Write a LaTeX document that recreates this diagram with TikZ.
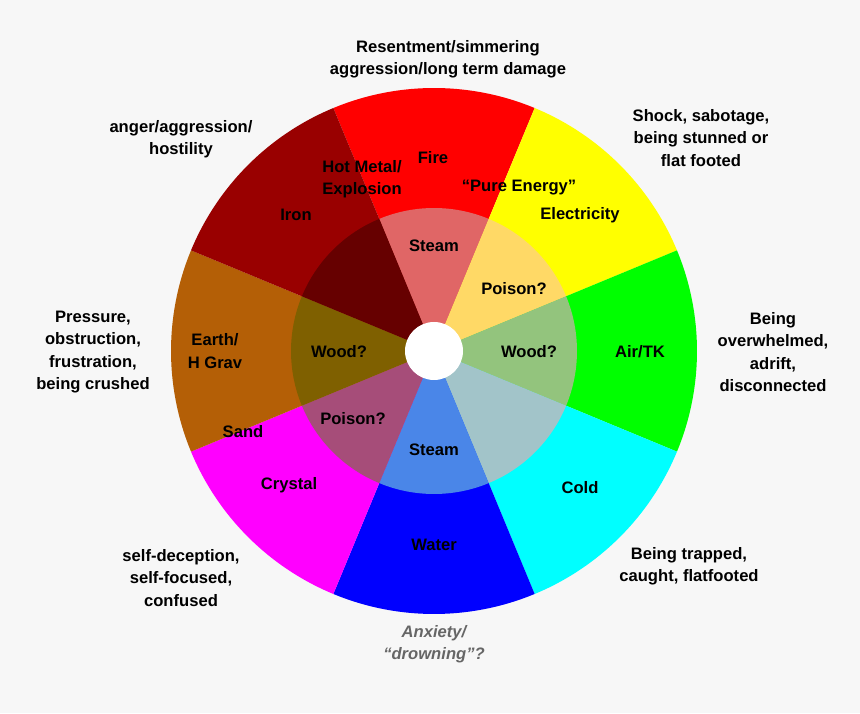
\documentclass[tikz,border=0pt]{standalone}
\usepackage{fontspec}
\setmainfont{Liberation Sans}
\begin{document}
\begin{tikzpicture}[x=1pt,y=1pt,
  lab/.style={font=\fontsize{16.6}{22.5}\selectfont\bfseries,align=center,inner sep=0pt},
  note/.style={lab,text=black!60,font=\fontsize{16.6}{22.5}\selectfont\bfseries\itshape}]
\definecolor{bg}{HTML}{F7F7F7}
\fill[bg] (0,0) rectangle (860,713);
\useasboundingbox (0,0) rectangle (860,713);
\coordinate (C) at (434,362);
\def\sect#1#2#3#4{\fill[#1] (C) -- ++(#2:#4) arc[start angle=#2,end angle=#3,radius=#4] -- cycle;}
\definecolor{o1}{HTML}{FF0000}\definecolor{o2}{HTML}{FFFF00}\definecolor{o3}{HTML}{00FF00}
\definecolor{o4}{HTML}{00FFFF}\definecolor{o5}{HTML}{0000FF}\definecolor{o6}{HTML}{FF00FF}
\definecolor{o7}{HTML}{B45F06}\definecolor{o8}{HTML}{990000}
\definecolor{i1}{HTML}{E06666}\definecolor{i2}{HTML}{FFD966}\definecolor{i3}{HTML}{93C47D}
\definecolor{i4}{HTML}{A2C4C9}\definecolor{i5}{HTML}{4A86E8}\definecolor{i6}{HTML}{A64D79}
\definecolor{i7}{HTML}{7F6000}\definecolor{i8}{HTML}{660000}
\sect{o1}{67.5}{112.5}{263}\sect{o2}{22.5}{67.5}{263}\sect{o3}{-22.5}{22.5}{263}
\sect{o4}{-67.5}{-22.5}{263}\sect{o5}{-112.5}{-67.5}{263}\sect{o6}{-157.5}{-112.5}{263}
\sect{o7}{157.5}{202.5}{263}\sect{o8}{112.5}{157.5}{263}
\sect{i1}{67.5}{112.5}{143}\sect{i2}{22.5}{67.5}{143}\sect{i3}{-22.5}{22.5}{143}
\sect{i4}{-67.5}{-22.5}{143}\sect{i5}{-112.5}{-67.5}{143}\sect{i6}{-157.5}{-112.5}{143}
\sect{i7}{157.5}{202.5}{143}\sect{i8}{112.5}{157.5}{143}
\fill[white] (C) circle (29);
% outer notes
\node[lab] (n1) at (448,654) {Resentment/simmering\\aggression/long term damage};
\node[lab] (n2) at (181,574) {anger/aggression/\\hostility};
\node[lab] (n3) at (701,575) {Shock, sabotage,\\being stunned or\\flat footed};
\node[lab] (n4) at (93,361) {Pressure,\\obstruction,\\frustration,\\being crushed};
\node[lab] (n5) at (773,361) {Being\\overwhelmed,\\adrift,\\disconnected};
\node[lab] (n6) at (181,135) {self-deception,\\self-focused,\\confused};
\node[lab] (n7) at (689,147) {Being trapped,\\caught, flatfooted};
\node[note] (n8) at (434,69) {Anxiety/\\“drowning”?};
% inner labels
\node[lab] (a1) at (433,555) {Fire};
\node[lab] (a2) at (362,534) {Hot Metal/\\Explosion};
\node[lab] (a3) at (519,525) {“Pure Energy”};
\node[lab] (a4) at (580,498) {Electricity};
\node[lab] (a5) at (296,498) {Iron};
\node[lab] (a6) at (434,467) {Steam};
\node[lab] (a7) at (514,424) {Poison?};
\node[lab] (a8) at (215,362) {Earth/\\H Grav};
\node[lab] (a9) at (339,361) {Wood?};
\node[lab] (a10) at (529,361) {Wood?};
\node[lab] (a11) at (640,361) {Air/TK};
\node[lab] (a12) at (243,281) {Sand};
\node[lab] (a13) at (353,294) {Poison?};
\node[lab] (a14) at (434,263) {Steam};
\node[lab] (a15) at (580,225) {Cold};
\node[lab] (a16) at (289,228) {Crystal};
\node[lab] (a17) at (434,168) {Water};
\end{tikzpicture}
\end{document}
